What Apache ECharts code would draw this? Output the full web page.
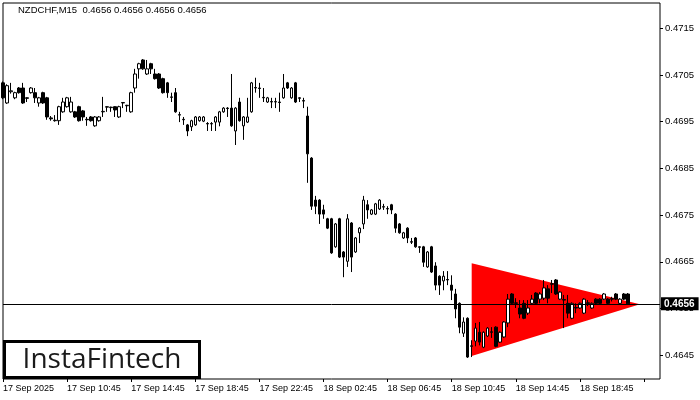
<!DOCTYPE html>
<html><head><meta charset="utf-8">
<script src="https://cdn.jsdelivr.net/npm/echarts@6/dist/echarts.min.js"></script>
<style>html,body{margin:0;padding:0;background:#fff}#c{width:700px;height:400px}</style>
</head><body><div id="c"></div>
<script>
const titleText = 'NZDCHF,M15  0.4656 0.4656 0.4656 0.4656';
const lastPrice = 0.4656;
const tickLabels = ['17 Sep 2025','17 Sep 10:45','17 Sep 14:45','17 Sep 18:45','17 Sep 22:45','18 Sep 02:45','18 Sep 06:45','18 Sep 10:45','18 Sep 14:45','18 Sep 18:45'];
const tickEvery = 16;
const slotCount = 165;
const priceTicks = [0.4645,0.4655,0.4665,0.4675,0.4685,0.4695,0.4705,0.4715];
const yMin = 0.46399, yMax = 0.47204;

const opens = [0.47033,0.46990,0.47014,0.47001,0.47022,0.47022,0.47001,0.47012,0.47012,0.46990,
0.47012,0.47001,0.46958,0.46952,0.46952,0.46971,0.46982,0.46971,0.46971,0.46982,
0.46973,0.46955,0.46960,0.46941,0.46952,0.46971,0.46981,0.46980,0.46982,0.46960,
0.46990,0.46984,0.46971,0.47022,0.47063,0.47082,0.47052,0.47074,0.47052,0.47052,
0.47042,0.47033,0.47003,0.47012,0.46965,0.46955,0.46943,0.46939,0.46943,0.46952,
0.46951,0.46946,0.46945,0.46949,0.46949,0.46971,0.46979,0.46979,0.46930,0.46992,
0.46941,0.46949,0.46971,0.47023,0.47022,0.47002,0.46992,0.46993,0.46992,0.46992,
0.47001,0.47033,0.47001,0.47033,0.47001,0.46995,0.46962,0.46872,0.46782,0.46782,
0.46761,0.46742,0.46742,0.46682,0.46742,0.46671,0.46651,0.46733,0.46671,0.46712,
0.46731,0.46772,0.46752,0.46752,0.46763,0.46768,0.46763,0.46772,0.46752,0.46731,
0.46701,0.46722,0.46693,0.46701,0.46682,0.46682,0.46639,0.46682,0.46641,0.46619,
0.46609,0.46612,0.46600,0.46581,0.46561,0.46497,0.46529,0.46470,0.46480,0.46499,
0.46467,0.46491,0.46500,0.46510,0.46478,0.46489,0.46519,0.46581,0.46562,0.46551,
0.46561,0.46540,0.46561,0.46583,0.46570,0.46572,0.46592,0.46603,0.46611,0.46570,
0.46569,0.46561,0.46529,0.46552,0.46551,0.46540,0.46562,0.46551,0.46570,0.46570,
0.46570,0.46570,0.46571,0.46581,0.46561,0.46581,0.46581];
const closes = [0.47001,0.47027,0.47016,0.47012,0.47012,0.46990,0.47000,0.47022,0.47001,0.47001,
0.46990,0.46960,0.46956,0.46953,0.46982,0.46992,0.47001,0.46992,0.46960,0.46952,
0.46960,0.46954,0.46952,0.46960,0.46960,0.46972,0.46982,0.46981,0.46975,0.46982,
0.46991,0.46985,0.47012,0.47052,0.47074,0.47063,0.47063,0.47063,0.47042,0.47022,
0.47012,0.47012,0.47002,0.46971,0.46964,0.46954,0.46930,0.46952,0.46960,0.46960,
0.46960,0.46945,0.46946,0.46960,0.46971,0.46979,0.46978,0.46941,0.46979,0.46952,
0.46960,0.46960,0.47033,0.47022,0.47021,0.47001,0.47001,0.46992,0.46993,0.46991,
0.47022,0.47022,0.47022,0.46992,0.47000,0.46994,0.46881,0.46769,0.46769,0.46752,
0.46752,0.46722,0.46669,0.46731,0.46660,0.46660,0.46742,0.46660,0.46701,0.46722,
0.46782,0.46761,0.46761,0.46774,0.46782,0.46767,0.46764,0.46761,0.46722,0.46712,
0.46712,0.46701,0.46692,0.46682,0.46681,0.46649,0.46671,0.46628,0.46600,0.46600,
0.46619,0.46611,0.46589,0.46549,0.46510,0.46521,0.46446,0.46469,0.46508,0.46478,
0.46499,0.46508,0.46499,0.46469,0.46499,0.46521,0.46570,0.46561,0.46561,0.46538,
0.46529,0.46551,0.46570,0.46561,0.46581,0.46594,0.46572,0.46602,0.46581,0.46585,
0.46568,0.46540,0.46561,0.46551,0.46561,0.46570,0.46561,0.46561,0.46561,0.46561,
0.46581,0.46561,0.46570,0.46570,0.46570,0.46570,0.46560];
const lows = [0.46998,0.46988,0.47010,0.46998,0.47010,0.46988,0.46992,0.47010,0.46990,0.46982,
0.46988,0.46954,0.46952,0.46950,0.46943,0.46969,0.46980,0.46969,0.46958,0.46950,
0.46952,0.46941,0.46950,0.46939,0.46950,0.46960,0.46971,0.46971,0.46960,0.46958,
0.46979,0.46971,0.46969,0.47012,0.47042,0.47061,0.47050,0.47052,0.47040,0.47020,
0.47010,0.47001,0.46992,0.46969,0.46949,0.46943,0.46919,0.46930,0.46941,0.46950,
0.46949,0.46930,0.46930,0.46930,0.46940,0.46969,0.46960,0.46939,0.46900,0.46950,
0.46911,0.46947,0.46969,0.47012,0.47001,0.46992,0.46990,0.46979,0.46979,0.46971,
0.46999,0.47020,0.46999,0.46990,0.46992,0.46979,0.46819,0.46761,0.46752,0.46731,
0.46742,0.46720,0.46667,0.46680,0.46658,0.46617,0.46639,0.46628,0.46669,0.46690,
0.46720,0.46742,0.46750,0.46750,0.46761,0.46761,0.46752,0.46752,0.46712,0.46710,
0.46699,0.46690,0.46688,0.46680,0.46669,0.46639,0.46637,0.46626,0.46589,0.46579,
0.46589,0.46600,0.46568,0.46529,0.46497,0.46489,0.46444,0.46446,0.46469,0.46471,
0.46465,0.46489,0.46487,0.46467,0.46476,0.46487,0.46510,0.46559,0.46551,0.46529,
0.46527,0.46536,0.46559,0.46559,0.46561,0.46568,0.46561,0.46583,0.46579,0.46568,
0.46508,0.46529,0.46527,0.46540,0.46549,0.46538,0.46555,0.46549,0.46559,0.46559,
0.46568,0.46559,0.46565,0.46568,0.46559,0.46568,0.46558];
const highs = [0.47036,0.47030,0.47033,0.47014,0.47024,0.47033,0.47002,0.47024,0.47022,0.47003,
0.47014,0.47003,0.46962,0.46964,0.46984,0.47001,0.47003,0.47003,0.46973,0.46984,
0.46975,0.46960,0.46962,0.46962,0.46962,0.47003,0.46983,0.46982,0.46983,0.46984,
0.46992,0.46986,0.47014,0.47063,0.47076,0.47084,0.47082,0.47076,0.47063,0.47054,
0.47044,0.47035,0.47012,0.47022,0.46971,0.46960,0.46945,0.46954,0.46962,0.46962,
0.46962,0.46949,0.46949,0.46962,0.46973,0.46981,0.46981,0.47052,0.46981,0.47001,
0.46962,0.47001,0.47035,0.47044,0.47033,0.47022,0.47003,0.47001,0.47001,0.47012,
0.47052,0.47035,0.47024,0.47035,0.47002,0.47001,0.46982,0.46874,0.46791,0.46784,
0.46772,0.46744,0.46744,0.46733,0.46744,0.46673,0.46752,0.46735,0.46703,0.46724,
0.46791,0.46782,0.46763,0.46776,0.46784,0.46774,0.46769,0.46774,0.46754,0.46733,
0.46714,0.46724,0.46701,0.46703,0.46683,0.46684,0.46673,0.46684,0.46649,0.46621,
0.46630,0.46630,0.46621,0.46592,0.46563,0.46531,0.46531,0.46482,0.46519,0.46521,
0.46501,0.46510,0.46510,0.46512,0.46501,0.46523,0.46581,0.46583,0.46572,0.46568,
0.46568,0.46568,0.46579,0.46585,0.46585,0.46611,0.46600,0.46611,0.46613,0.46587,
0.46579,0.46579,0.46563,0.46561,0.46563,0.46572,0.46568,0.46563,0.46572,0.46572,
0.46583,0.46572,0.46575,0.46583,0.46572,0.46583,0.46583];

// pattern triangle (bar index, price)
const triangleBars = [117, 117, 159];
const trianglePrices = [0.46647, 0.46448, 0.46559];

const MONTHS = ['Jan','Feb','Mar','Apr','May','Jun','Jul','Aug','Sep','Oct','Nov','Dec'];
const startMs = Date.UTC(2025, 8, 17, 6, 45);
const pad = n => (n < 10 ? '0' : '') + n;
const categories = [];
for (let i = 0; i < slotCount; i++) {
  const d = new Date(startMs + i * 15 * 60000);
  categories.push(d.getUTCDate() + ' ' + MONTHS[d.getUTCMonth()] + ' ' + pad(d.getUTCHours()) + ':' + pad(d.getUTCMinutes()));
}
const labelMap = {};
tickLabels.forEach((t, k) => { labelMap[categories[k * tickEvery]] = t; });
const candleData = opens.map((o, i) => [o, closes[i], lows[i], highs[i]]);

const AXIS_FONT = "'Liberation Sans',Arial,sans-serif";
const chart = echarts.init(document.getElementById('c'), null, {renderer: 'canvas'});
chart.setOption({
  animation: false,
  backgroundColor: '#fff',
  grid: {left: 3, right: 40, top: 3, bottom: 21, show: true, borderColor: '#000', borderWidth: 1, backgroundColor: 'transparent'},
  xAxis: {
    type: 'category', data: categories, boundaryGap: false,
    axisLine: {show: false},
    axisTick: {show: true, length: 3, interval: i => i % tickEvery === 0, lineStyle: {color: '#000'}},
    axisLabel: {interval: i => i % tickEvery === 0, formatter: v => labelMap[v] || '', align: 'left', margin: 5,
      color: '#000', fontSize: 9, fontFamily: AXIS_FONT},
    splitLine: {show: false}
  },
  yAxis: {
    type: 'value', position: 'right', min: yMin, max: yMax, scale: true,
    axisLine: {show: false},
    axisTick: {show: true, length: 3, customValues: priceTicks, lineStyle: {color: '#000'}},
    axisLabel: {customValues: priceTicks, formatter: v => v.toFixed(4), margin: 5, color: '#000', fontSize: 9.5, fontFamily: AXIS_FONT},
    splitLine: {show: false}
  },
  series: [
    {
      type: 'custom', z: 1, silent: true,
      data: [[triangleBars[0], trianglePrices[0]]],
      renderItem: (params, api) => {
        const pts = triangleBars.map((b, k) => api.coord([b, trianglePrices[k]]));
        return {type: 'polygon', shape: {points: pts}, style: {fill: '#ff0000', stroke: null}};
      }
    },
    {
      type: 'candlestick', z: 3, data: candleData, barWidth: 3,
      itemStyle: {color: '#fff', color0: '#000', borderColor: '#000', borderColor0: '#000', borderWidth: 1},
      markLine: {
        symbol: 'none', silent: true, animation: false,
        lineStyle: {color: '#000', width: 1, type: 'solid'},
        label: {position: 'end', distance: 1, formatter: () => lastPrice.toFixed(4), color: '#fff', backgroundColor: '#000',
          padding: [2, 4, 1, 3], fontSize: 10, fontWeight: 'bold', fontFamily: AXIS_FONT},
        data: [[{coord: [0, lastPrice]}, {coord: [slotCount - 1, lastPrice]}]]
      }
    }
  ],
  graphic: [
    {type: 'text', left: 18, top: 5, z: 10, style: {text: titleText, fill: '#000', font: "9.5px " + AXIS_FONT}},
    {type: 'rect', z: 10, shape: {x: 4.5, y: 341.5, width: 195, height: 36}, style: {fill: '#fff', stroke: '#000', lineWidth: 3}},
    {type: 'text', z: 11, x: 102, y: 360, style: {text: 'InstaFintech', fill: '#1a1a1a', font: "500 28px 'Open Sans', sans-serif", align: 'center', verticalAlign: 'middle'}}
  ]
});
</script></body></html>
